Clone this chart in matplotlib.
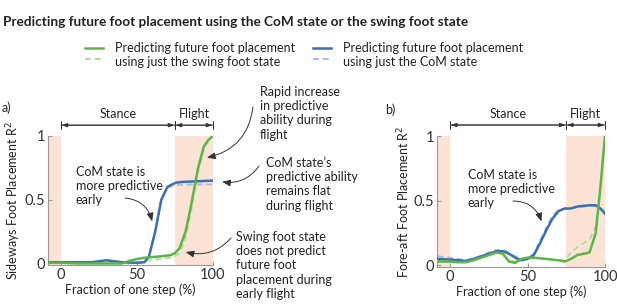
import numpy as np
import matplotlib.pyplot as plt

plt.rcParams['font.family'] = ['Lato', 'DejaVu Sans']

# panel a: sideways foot placement
xa = [-8, 0, 10, 20, 30, 40, 50, 55, 58, 62, 66, 70, 73, 76, 80, 90, 100]
a_com = [0.01, 0.01, 0.01, 0.01, 0.025, 0.01, 0.005, 0.01, 0.06, 0.25, 0.5, 0.6, 0.62, 0.635, 0.64, 0.645, 0.65]
a_com_d = [0.01, 0.01, 0.01, 0.01, 0.02, 0.01, 0.005, 0.01, 0.06, 0.25, 0.5, 0.59, 0.61, 0.615, 0.618, 0.62, 0.62]
xa2 = [-8, 0, 10, 20, 30, 40, 45, 50, 55, 65, 72, 75, 78, 82, 86, 90, 94, 97, 100]
a_swing = [0.005, 0.005, 0.0, 0.0, 0.0, 0.0, 0.02, 0.035, 0.045, 0.055, 0.065, 0.08, 0.12, 0.25, 0.48, 0.74, 0.92, 0.97, 1.0]
a_swing_d = [0.005, 0.005, 0.0, 0.0, 0.0, 0.0, 0.0, 0.01, 0.02, 0.035, 0.045, 0.055, 0.08, 0.2, 0.44, 0.71, 0.9, 0.96, 1.0]

# panel b: fore-aft foot placement
xb = [-8, 0, 5, 10, 15, 20, 25, 30, 34, 38, 42, 46, 50, 54, 58, 62, 66, 70, 74, 78, 82, 86, 90, 94, 97, 100]
b_com = [0.05, 0.045, 0.04, 0.035, 0.05, 0.07, 0.09, 0.11, 0.11, 0.09, 0.06, 0.04, 0.05, 0.08, 0.17, 0.27, 0.36, 0.42, 0.44, 0.44, 0.455, 0.46, 0.465, 0.465, 0.44, 0.4]
b_com_d = [0.07, 0.06, 0.05, 0.04, 0.055, 0.075, 0.1, 0.12, 0.12, 0.1, 0.07, 0.05, 0.055, 0.09, 0.19, 0.29, 0.38, 0.43, 0.44, 0.44, 0.45, 0.455, 0.46, 0.46, 0.44, 0.42]
b_swing = [0.03, 0.03, 0.025, 0.025, 0.04, 0.06, 0.08, 0.1, 0.09, 0.03, 0.02, 0.05, 0.06, 0.06, 0.055, 0.05, 0.045, 0.04, 0.03, 0.05, 0.08, 0.09, 0.1, 0.25, 0.6, 1.0]
b_swing_d = [0.04, 0.035, 0.03, 0.03, 0.045, 0.065, 0.085, 0.1, 0.09, 0.04, 0.03, 0.05, 0.06, 0.06, 0.055, 0.05, 0.045, 0.04, 0.04, 0.1, 0.14, 0.17, 0.2, 0.3, 0.6, 1.0]

x_ticks = [0, 50, 100]
y_ticks = [0, 0.5, 1]
stance_end = 75

green = '#5cb548'
green_l = '#b3dba0'
blue = '#3a6fb7'
blue_l = '#a7badf'
shade = '#fce3d5'

fig = plt.figure(figsize=(6.17, 3.08), dpi=100)
W, H = 617, 308
fs = 9


def px(x0, y0, x1, y1):
    return [x0 / W, 1 - y1 / H, (x1 - x0) / W, (y1 - y0) / H]


def style_axes(ax, ylabel):
    ax.set_xlim(-8.5, 100)
    ax.set_ylim(-0.012, 1)
    ax.axvspan(-8.5, 0, color=shade, lw=0, zorder=0)
    ax.axvspan(stance_end, 100, color=shade, lw=0, zorder=0)
    for s in ['top', 'right']:
        ax.spines[s].set_visible(False)
    for s in ['left', 'bottom']:
        ax.spines[s].set_color('#999999')
        ax.spines[s].set_linewidth(0.8)
    ax.set_xticks(x_ticks)
    ax.set_yticks(y_ticks)
    ax.set_yticklabels(['0', '0.5', '1'])
    ax.tick_params(direction='in', length=3, color='#999999', labelsize=10.5, labelcolor='#333333', pad=2)
    ax.set_xlabel('Fraction of one step (%)', fontsize=fs, color='#222222', labelpad=1)
    ax.set_ylabel(ylabel, fontsize=fs, color='#222222', labelpad=1)
    # stance / flight brackets
    yb = 1.085
    for x0, x1 in [(0, stance_end), (stance_end, 100)]:
        ax.annotate('', xy=(x0, yb), xytext=(x1, yb),
                    arrowprops=dict(arrowstyle='|-|, widthA=0.3, widthB=0.3', color='#333333', lw=0.7,
                                    shrinkA=0, shrinkB=0), annotation_clip=False)
        ax.annotate('', xy=(x0 + 0.3, yb), xytext=(x1 - 0.3, yb),
                    arrowprops=dict(arrowstyle='<|-|>, head_length=0.35, head_width=0.12',
                                    color='#333333', lw=0.7, shrinkA=0, shrinkB=0),
                    annotation_clip=False)
    ax.text(stance_end / 2, yb + 0.04, 'Stance', ha='center', va='bottom', fontsize=fs, color='#222222')
    ax.text((stance_end + 100) / 2, yb + 0.04, 'Flight', ha='center', va='bottom', fontsize=fs, color='#222222')


ax1 = fig.add_axes(px(48, 136, 213, 265))
ax2 = fig.add_axes(px(437, 136, 605, 267))

ax1.plot(xa, a_com_d, color=blue_l, lw=1.4, ls=(0, (3, 2)), zorder=2)
ax1.plot(xa2, a_swing_d, color=green_l, lw=1.4, ls=(0, (3, 2)), zorder=2)
ax1.plot(xa, a_com, color=blue, lw=1.8, zorder=3)
ax1.plot(xa2, a_swing, color=green, lw=1.8, zorder=3)
style_axes(ax1, 'Sideways Foot Placement R$^2$')

ax2.plot(xb, b_com_d, color=blue_l, lw=1.4, ls=(0, (3, 2)), zorder=2)
ax2.plot(xb, b_swing_d, color=green_l, lw=1.4, ls=(0, (3, 2)), zorder=2)
ax2.plot(xb, b_com, color=blue, lw=1.8, zorder=3)
ax2.plot(xb, b_swing, color=green, lw=1.8, zorder=3)
style_axes(ax2, 'Fore-aft Foot Placement R$^2$')

arrow = dict(arrowstyle='-|>, head_length=0.5, head_width=0.2', color='#333333', lw=0.7)


def note(ax, text, xy, txt_px, arrow_from, rad):
    fig.text(txt_px[0] / W, 1 - txt_px[1] / H, text, fontsize=fs, color='#222222',
             ha='left', va='top', linespacing=1.22)
    ax.annotate('', xy=xy, xycoords='data',
                xytext=(arrow_from[0], H - arrow_from[1]), textcoords='figure pixels',
                arrowprops=dict(connectionstyle='arc3,rad=%s' % rad, shrinkA=0, shrinkB=0, **arrow),
                annotation_clip=False)


note(ax1, 'Rapid increase\nin predictive\nability during\nflight', (96, 0.83), (260, 86), (253, 107), -0.35)
note(ax1, 'CoM state\u2019s\npredictive ability\nremains flat\nduring flight', (106, 0.64), (266, 157), (259, 166), -0.3)
note(ax1, 'Swing foot state\ndoes not predict\nfuture foot\nplacement during\nearly flight', (82, 0.09), (236, 231), (231, 238), -0.3)
note(ax1, 'CoM state is\nmore predictive\nearly', (60, 0.33), (76, 166), (125, 198), -0.35)
note(ax2, 'CoM state is\nmore predictive\nearly', (59, 0.34), (468, 169), (513, 201), -0.35)

fig.text(2 / W, 1 - 108 / H, 'a)', fontsize=fs, color='#222222', va='center')
fig.text(385 / W, 1 - 110 / H, 'b)', fontsize=fs, color='#222222', va='center')

fig.text(3 / W, 1 - 22 / H, 'Predicting future foot placement using the CoM state or the swing foot state',
         fontsize=9.8, fontweight='bold', color='#222222', va='center')

# legend
lx = [(85, 103, green, green_l, 'Predicting future foot placement\nusing just the swing foot state'),
      (313, 331, blue, blue_l, 'Predicting future foot placement\nusing just the CoM state')]
for x0, x1, c, cl, lab in lx:
    fig.add_artist(plt.Line2D([x0 / W, x1 / W], [1 - 48 / H, 1 - 48 / H], color=c, lw=1.8))
    fig.add_artist(plt.Line2D([x0 / W, x1 / W], [1 - 59 / H, 1 - 59 / H], color=cl, lw=1.4, ls=(0, (3, 2))))
    fig.text((x1 + 12) / W, 1 - 42 / H, lab, fontsize=fs, color='#222222', va='top', linespacing=1.22)

fig.savefig('out.png', dpi=100)
